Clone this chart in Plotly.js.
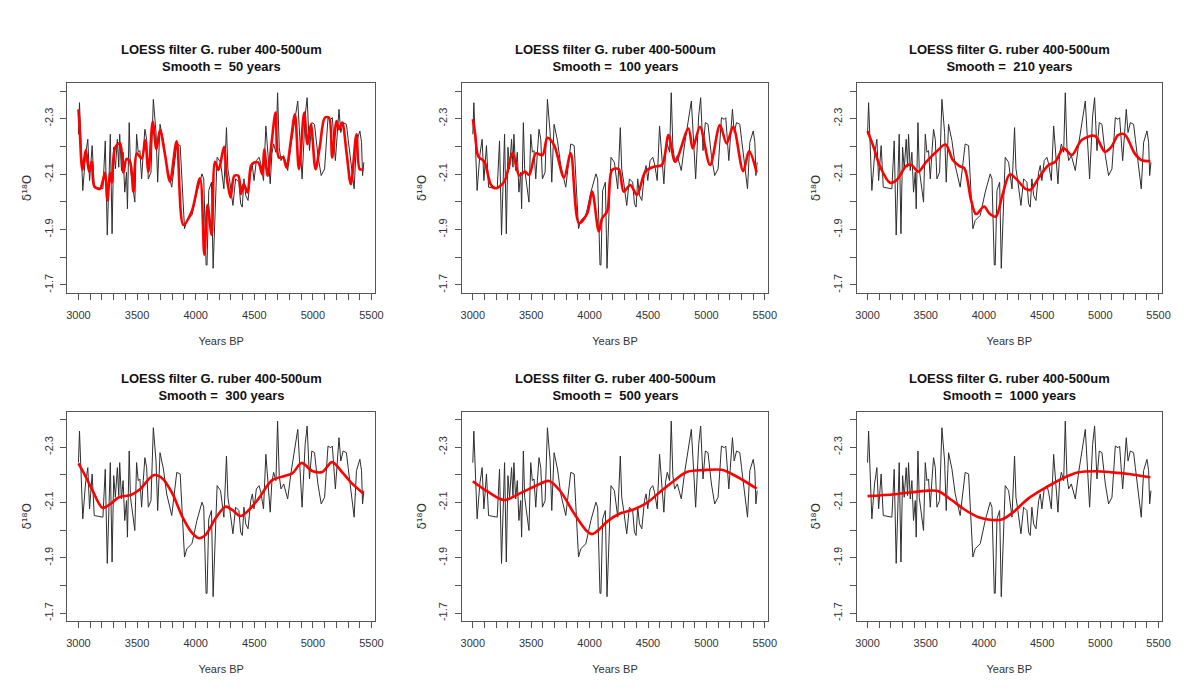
<!DOCTYPE html>
<html>
<head>
<meta charset="utf-8">
<script src="https://cdn.plot.ly/plotly-3.0.1.min.js"></script>
<style>html,body{margin:0;padding:0;background:#fff;}#chart{width:1192px;height:697px;}</style>
</head>
<body>
<div id="chart"></div>
<script>
// Raw record: G. ruber 400-500um d18O vs Years BP
const rawYears = [3000,3009,3037,3060,3080,3095,3117,3135,3209,3229,3246,3272,3287,3301,3315,3332,3344,3352,3367,3381,3395,3410,3418,3433,3444,3461,3481,3496,3510,3524,3539,3553,3567,3582,3596,3619,3639,3662,3676,3696,3725,3753,3796,3839,3868,3905,3925,3968,4011,4054,4069,4089,4097,4112,4135,4149,4160,4183,4212,4241,4263,4275,4292,4318,4341,4369,4384,4398,4412,4427,4447,4470,4484,4498,4518,4541,4556,4579,4599,4619,4636,4650,4665,4685,4699,4713,4728,4751,4785,4814,4842,4871,4894,4908,4934,4951,4971,4991,5014,5043,5071,5100,5129,5152,5166,5192,5223,5238,5258,5286,5301,5329,5352,5372,5401,5415,5424,5435];
const rawD18O = [-2.244,-2.358,-2.041,-2.167,-2.226,-2.077,-2.203,-2.053,-2.047,-2.220,-1.880,-2.244,-1.885,-2.197,-2.119,-2.226,-2.125,-2.244,-2.113,-2.179,-2.035,-2.107,-1.975,-2.286,-2.119,-2.071,-1.999,-2.244,-2.179,-2.185,-2.083,-2.179,-2.262,-2.226,-2.083,-2.107,-2.370,-2.250,-2.071,-2.280,-2.221,-2.131,-2.053,-2.209,-2.203,-1.903,-1.933,-1.951,-2.035,-2.101,-2.083,-1.772,-1.772,-2.041,-2.071,-1.760,-1.915,-2.161,-2.143,-2.047,-2.268,-2.119,-2.071,-1.987,-2.083,-2.071,-1.993,-1.981,-2.083,-2.023,-2.005,-2.107,-2.131,-2.077,-2.149,-2.161,-2.137,-2.077,-2.274,-2.155,-2.065,-2.173,-2.209,-2.179,-2.394,-2.197,-2.149,-2.167,-2.113,-2.209,-2.280,-2.364,-2.191,-2.083,-2.310,-2.376,-2.185,-2.286,-2.280,-2.167,-2.095,-2.119,-2.304,-2.298,-2.304,-2.149,-2.334,-2.250,-2.286,-2.280,-2.226,-2.119,-2.047,-2.215,-2.256,-2.215,-2.095,-2.143];

// LOESS smooth curves
const smooth50Years = [3000,3009,3034,3063,3091,3114,3136,3185,3200,3227,3247,3270,3285,3313,3355,3384,3410,3440,3469,3497,3540,3569,3597,3634,3665,3696,3739,3781,3838,3895,3966,4037,4074,4102,4136,4165,4195,4242,4264,4298,4330,4364,4387,4410,4443,4472,4500,4534,4568,4585,4614,4648,4682,4710,4747,4775,4812,4847,4881,4926,4954,4983,5023,5060,5102,5137,5165,5202,5222,5250,5287,5324,5372,5400,5430];
const smooth50Vals = [-2.334,-2.277,-2.115,-2.187,-2.109,-2.145,-2.055,-2.047,-2.062,-2.106,-2.006,-2.106,-2.070,-2.196,-2.212,-2.106,-2.155,-2.145,-2.037,-2.175,-2.157,-2.223,-2.109,-2.289,-2.190,-2.259,-2.169,-2.073,-2.219,-1.917,-1.965,-2.085,-1.809,-1.989,-1.881,-2.145,-2.115,-2.199,-2.094,-2.016,-2.094,-2.094,-2.028,-2.064,-2.034,-2.130,-2.142,-2.142,-2.100,-2.190,-2.094,-2.214,-2.322,-2.160,-2.160,-2.124,-2.220,-2.316,-2.118,-2.322,-2.208,-2.280,-2.118,-2.202,-2.304,-2.304,-2.160,-2.292,-2.262,-2.286,-2.178,-2.064,-2.244,-2.118,-2.118];

const smooth100Years = [3000,3020,3048,3099,3156,3199,3270,3341,3398,3446,3483,3540,3597,3639,3696,3781,3838,3909,3980,4022,4079,4107,4150,4193,4249,4292,4349,4406,4477,4548,4619,4676,4733,4846,4883,4945,5031,5116,5173,5229,5315,5366,5430];
const smooth100Vals = [-2.298,-2.245,-2.163,-2.145,-2.061,-2.049,-2.073,-2.175,-2.095,-2.109,-2.097,-2.175,-2.169,-2.231,-2.205,-2.088,-2.175,-1.923,-1.959,-2.037,-1.893,-1.941,-1.965,-2.115,-2.118,-2.037,-2.061,-2.025,-2.109,-2.127,-2.133,-2.241,-2.145,-2.265,-2.193,-2.271,-2.133,-2.277,-2.211,-2.271,-2.111,-2.183,-2.106];

const smooth210Years = [3000,3051,3108,3193,3250,3335,3378,3435,3506,3591,3670,3733,3790,3832,3889,3932,4002,4045,4102,4159,4221,4272,4357,4400,4471,4556,4613,4684,4755,4840,4954,5039,5096,5153,5210,5295,5352,5430];
const smooth210Vals = [-2.255,-2.199,-2.127,-2.069,-2.079,-2.131,-2.133,-2.109,-2.145,-2.181,-2.207,-2.151,-2.129,-2.121,-2.007,-1.956,-1.983,-1.959,-1.947,-2.025,-2.099,-2.085,-2.047,-2.043,-2.087,-2.133,-2.145,-2.193,-2.169,-2.223,-2.238,-2.181,-2.199,-2.241,-2.243,-2.175,-2.151,-2.147];

const smooth300Years = [3000,3062,3119,3204,3261,3346,3446,3517,3645,3716,3801,3886,3971,4028,4085,4170,4255,4312,4383,4454,4539,4653,4823,4903,4994,5079,5164,5249,5335,5430];
const smooth300Vals = [-2.241,-2.193,-2.145,-2.081,-2.091,-2.119,-2.127,-2.145,-2.199,-2.187,-2.133,-2.049,-1.989,-1.971,-1.983,-2.043,-2.085,-2.073,-2.051,-2.073,-2.115,-2.181,-2.205,-2.243,-2.214,-2.210,-2.246,-2.210,-2.168,-2.133];

const smooth500Years = [3000,3128,3270,3412,3554,3653,3753,3866,3980,4022,4093,4150,4264,4377,4491,4605,4718,4832,4974,5130,5258,5430];
const smooth500Vals = [-2.177,-2.139,-2.109,-2.135,-2.163,-2.178,-2.139,-2.061,-1.995,-1.986,-2.007,-2.031,-2.061,-2.075,-2.099,-2.139,-2.177,-2.210,-2.217,-2.218,-2.194,-2.150];

const smooth1000Years = [3000,3238,3524,3610,3725,3839,3954,4068,4154,4240,4383,4527,4670,4813,4956,5100,5243,5430];
const smooth1000Vals = [-2.123,-2.130,-2.143,-2.141,-2.108,-2.073,-2.047,-2.037,-2.039,-2.061,-2.115,-2.153,-2.186,-2.209,-2.213,-2.209,-2.203,-2.191];

const spans = ['50','100','210','300','500','1000'];
const smoothYears = [smooth50Years, smooth100Years, smooth210Years, smooth300Years, smooth500Years, smooth1000Years];
const smoothVals = [smooth50Vals, smooth100Vals, smooth210Vals, smooth300Vals, smooth500Vals, smooth1000Vals];

const xTickVals = [3000,3500,4000,4500,5000,5500];
const xTickText = ['3000','3500','4000','4500','5000','5500'];
const xMinorVals = [3100,3200,3300,3400,3600,3700,3800,3900,4100,4200,4300,4400,4600,4700,4800,4900,5100,5200,5300,5400];
const yTickVals = [-2.3,-2.1,-1.9,-1.7];
const yTickText = ['-2.3','-2.1','-1.9','-1.7'];
const yMinorVals = [-2.4,-2.2,-2.0,-1.8];

const W = 1192, H = 697;
const colPx = [[67.3,375],[461.7,768.3],[856.5,1162]];
const rowPx = [[83.3,292.7],[411.7,621]];
const FONT = '"Liberation Sans", Arial, Helvetica, sans-serif';

const data = [];
const layout = {
  width: W, height: H,
  margin: {l:0, r:0, t:0, b:0},
  paper_bgcolor: '#ffffff', plot_bgcolor: '#ffffff',
  showlegend: false,
  font: {family: FONT, color: '#333'},
  annotations: []
};

for (let i = 0; i < 6; i++) {
  const r = Math.floor(i / 3), c = i % 3;
  const sfx = i === 0 ? '' : String(i + 1);
  const xa = 'x' + sfx, ya = 'y' + sfx;
  data.push({x: rawYears, y: rawD18O, xaxis: xa, yaxis: ya, type: 'scatter', mode: 'lines',
             line: {color: '#2e2e2e', width: 1}, hoverinfo: 'skip'});
  data.push({x: smoothYears[i], y: smoothVals[i], xaxis: xa, yaxis: ya, type: 'scatter', mode: 'lines',
             line: {color: '#ff0000', width: 2.6, shape: 'spline', smoothing: 0.9}, hoverinfo: 'skip'});
  const xd = [colPx[c][0] / W, colPx[c][1] / W];
  const yd = [1 - rowPx[r][1] / H, 1 - rowPx[r][0] / H];
  layout['xaxis' + sfx] = {
    domain: xd, anchor: ya, range: [2905, 5530],
    tickmode: 'array', tickvals: xTickVals, ticktext: xTickText,
    ticks: 'outside', ticklen: 6, tickwidth: 1, tickcolor: '#555',
    minor: {tickmode: 'array', tickvals: xMinorVals, ticks: 'outside', ticklen: 6, tickwidth: 1, tickcolor: '#555', showgrid: false},
    ticklabelstandoff: 6,
    showline: true, mirror: true, linecolor: '#555', linewidth: 1,
    showgrid: false, zeroline: false,
    tickfont: {family: FONT, size: 11, color: '#333'},
    title: {text: 'Years BP', font: {family: FONT, size: 11, color: '#333'}, standoff: 17}
  };
  layout['yaxis' + sfx] = {
    domain: yd, anchor: xa, range: [-1.672, -2.428],
    tickmode: 'array', tickvals: yTickVals, ticktext: yTickText,
    ticks: 'outside', ticklen: 6, tickwidth: 1, tickcolor: '#555',
    minor: {tickmode: 'array', tickvals: yMinorVals, ticks: 'outside', ticklen: 6, tickwidth: 1, tickcolor: '#555', showgrid: false},
    tickangle: -90, ticklabelstandoff: 3,
    showline: true, mirror: true, linecolor: '#555', linewidth: 1,
    showgrid: false, zeroline: false,
    tickfont: {family: FONT, size: 11, color: '#333'},
    title: {text: 'δ¹⁸O', font: {family: '"DejaVu Sans", "Liberation Sans", sans-serif', size: 12, color: '#333'}, standoff: 8}
  };
  layout.annotations.push({
    xref: 'paper', yref: 'paper',
    x: (xd[0] + xd[1]) / 2, y: 1 - (rowPx[r][0] - 25) / H,
    xanchor: 'center', yanchor: 'middle', showarrow: false,
    text: '<b>LOESS filter G. ruber 400-500um<br>Smooth =\u00a0 ' + spans[i] + ' years</b>',
    font: {family: FONT, size: 13, color: '#111'}
  });
}

Plotly.newPlot('chart', data, layout, {staticPlot: true, displayModeBar: false});
</script>
</body>
</html>
